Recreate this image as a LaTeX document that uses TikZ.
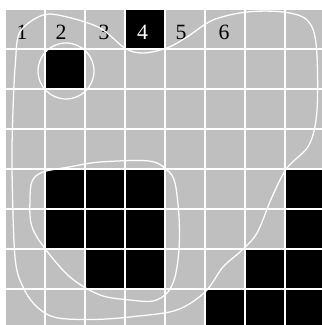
\documentclass[tikz,border=0pt]{standalone}
\usepackage{fontspec}
\setmainfont{Liberation Serif}

\begin{document}
\begin{tikzpicture}[
    cell/.style={fill=black},
    gridline/.style={white, line width=1.3pt},
    curve/.style={white, line width=0.9pt},
    num/.style={font=\fontsize{15.5}{18}\selectfont, inner sep=0pt}
]
    \useasboundingbox (-0.125,-7.9) rectangle (7.9,0.225);
    \fill[gray!50] (0,-8) rectangle (8,0);
    \foreach \c/\r in {3/0, 1/1, 1/4, 2/4, 3/4, 7/4, 1/5, 2/5, 3/5, 7/5,
                       2/6, 3/6, 6/6, 7/6, 5/7, 6/7, 7/7}
        \fill[cell] (\c,-\r) rectangle ++(1,-1);
    \draw[gridline] (0,-8) grid (8,0);

    \node[num] (n1) at (0.425,-0.59) {1};
    \node[num] (n2) at (1.4,-0.59) {2};
    \node[num] (n3) at (2.475,-0.59) {3};
    \node[num, text=white] (n4) at (3.44,-0.59) {4};
    \node[num] (n5) at (4.4,-0.59) {5};
    \node[num] (n6) at (5.475,-0.59) {6};

    % loops
    \draw[curve] (1.525,-1.55) circle (0.7);
    \draw[curve] plot[smooth cycle, tension=0.55] coordinates {
        (0.375,-0.575) (0.95,-0.15) (1.55,-0.2) (2.375,-0.475) (3.0,-0.98)
        (3.45,-1.1) (4.05,-0.975) (4.55,-0.7) (5.2,-0.275) (6.05,-0.075)
        (6.95,-0.075) (7.55,-0.275) (7.78,-0.9) (7.8,-2.525) (7.6,-3.4)
        (7.05,-3.975) (6.675,-4.7) (6.3,-5.6) (5.9,-6.05) (5.45,-6.45)
        (5.0,-7.075) (4.3,-7.525) (3.3,-7.68) (2.3,-7.76) (1.3,-7.72)
        (0.8,-7.45) (0.45,-6.95) (0.25,-6.2) (0.175,-4.0) (0.2,-2.525)
        (0.26,-1.35)};
    \draw[curve] plot[smooth cycle, tension=0.55] coordinates {
        (0.95,-4.075) (0.68,-4.3) (0.625,-4.75) (0.66,-5.4) (0.97,-5.95)
        (1.625,-6.7) (2.375,-7.15) (3.125,-7.275) (3.7,-7.3) (4.05,-7.1)
        (4.25,-6.7) (4.35,-6.0) (4.35,-5.2) (4.25,-4.35) (4.05,-4.025)
        (3.6,-3.8) (2.375,-3.825) (1.6,-3.95)};
\end{tikzpicture}
\end{document}
